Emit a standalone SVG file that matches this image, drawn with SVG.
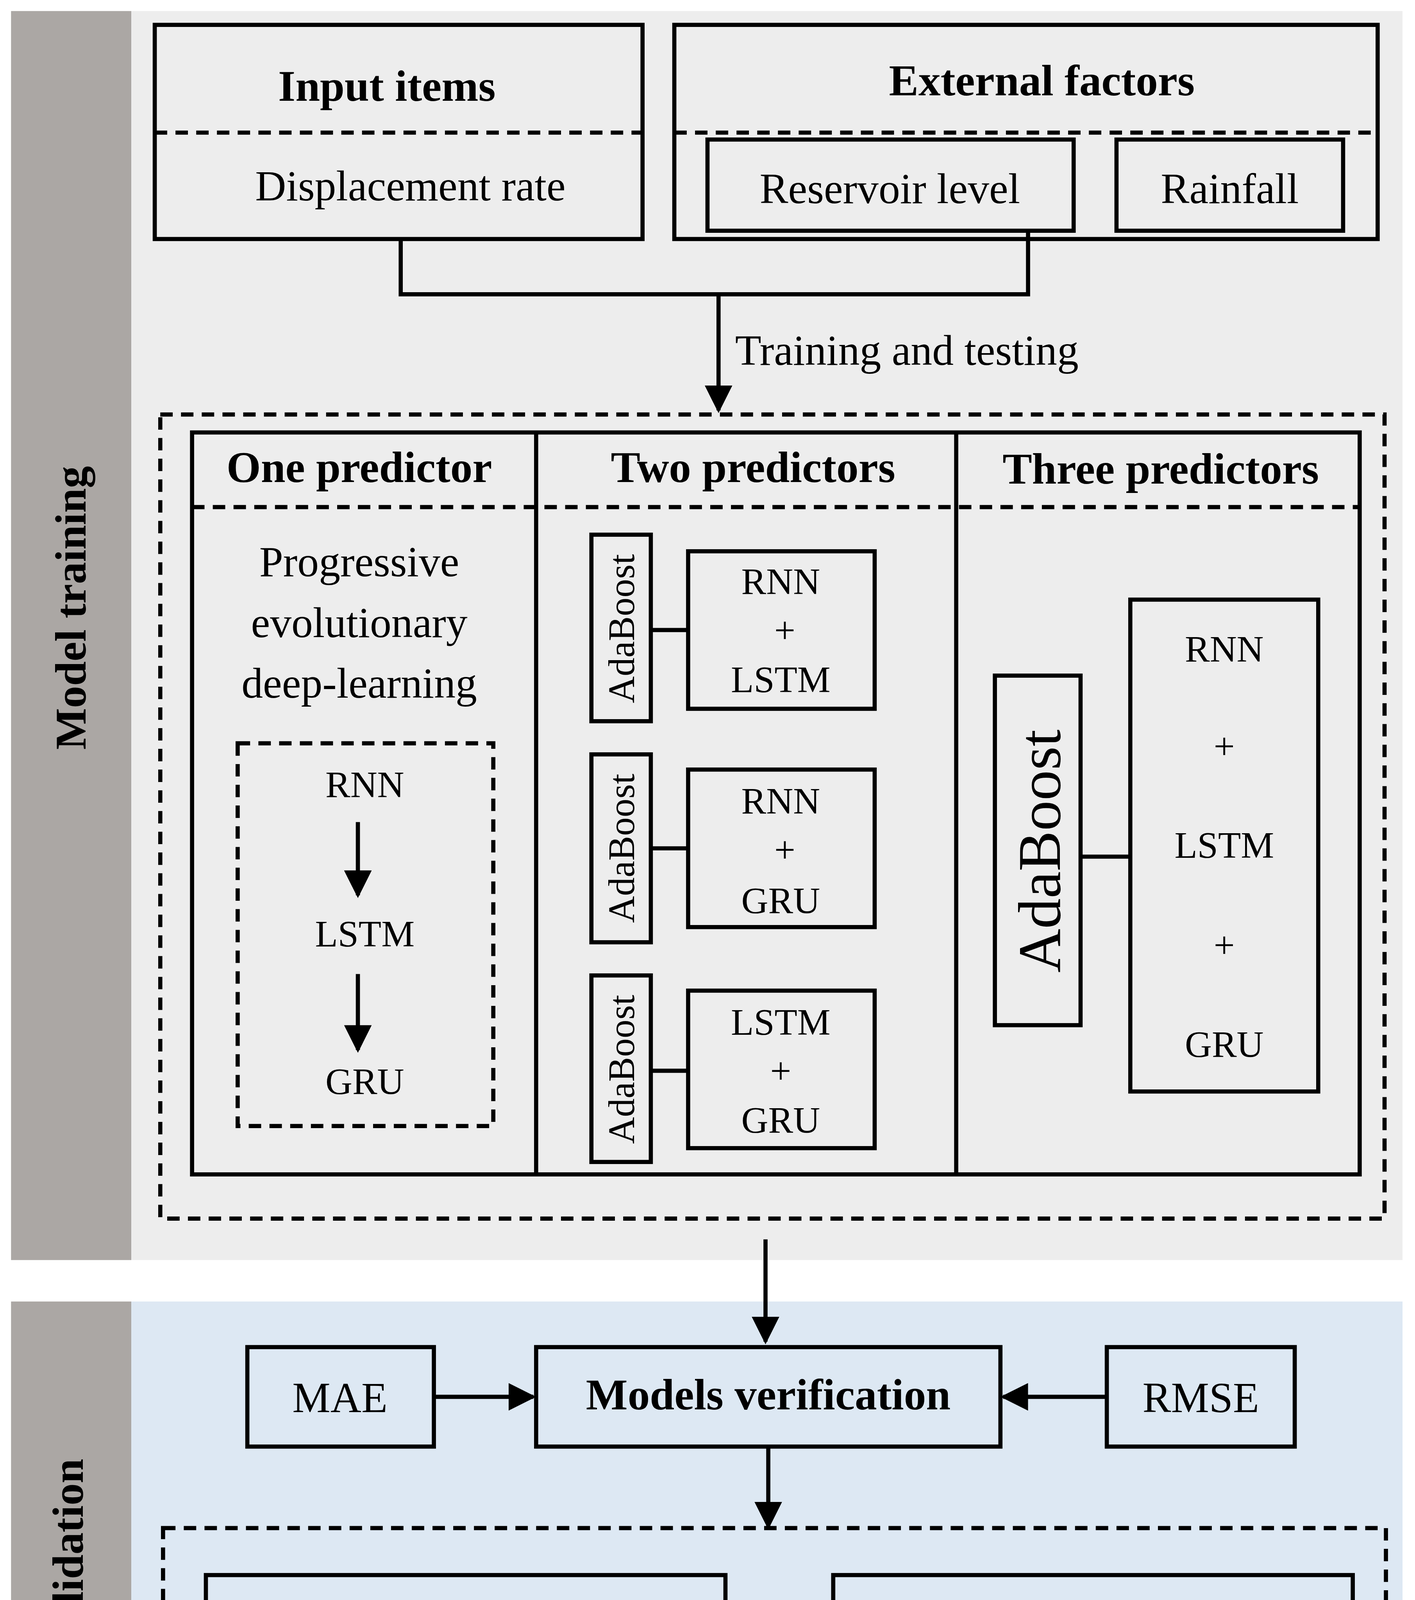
<svg xmlns="http://www.w3.org/2000/svg" width="3622" height="5560" viewBox="0 0 3622 5560">
<style>
.b{fill:none;stroke:#000;stroke-width:3}
.d{fill:none;stroke:#000;stroke-width:3;stroke-dasharray:9,6}
.l{fill:none;stroke:#000;stroke-width:3}
text{font-family:"Liberation Serif",serif;fill:#000;text-anchor:middle}
.t{font-size:32px;font-weight:bold}
.n{font-size:31px}
.s{font-size:27px}
</style>
<defs><marker id="a" viewBox="0 0 10 10" refX="9" refY="5" markerWidth="6" markerHeight="6" markerUnits="userSpaceOnUse" orient="auto"><path d="M0,0L10,5L0,10z"/></marker>
<marker id="m" viewBox="0 0 10 10" refX="9" refY="5" markerWidth="20" markerHeight="20" markerUnits="userSpaceOnUse" orient="auto"><path d="M0,0L10,5L0,10z"/></marker></defs>
<rect width="3622" height="5560" fill="#fff"/>
<g transform="scale(3.537)">
<g id="bg">
<rect x="8" y="8" width="87" height="904" fill="#aba7a4"/>
<rect x="95" y="8" width="920" height="904" fill="#ededed"/>
<rect x="8" y="942" width="87" height="618" fill="#aba7a4"/>
<rect x="95" y="942" width="920" height="618" fill="#dde8f3"/>
<text class="t" transform="translate(62,440) rotate(-90)">Model training</text>
<text class="t" transform="translate(60,1178) rotate(-90)">Models validation</text>
</g>
<g id="input"><rect class="b" x="112" y="18" width="353" height="155"/><line class="d" x1="112" y1="96" x2="465" y2="96"/>
<text class="t" x="280" y="73">Input items</text><text class="n" x="297" y="145">Displacement rate</text></g>
<g id="external"><rect class="b" x="488" y="18" width="509" height="155"/><line class="d" x1="488" y1="96" x2="997" y2="96"/>
<text class="t" x="754" y="69">External factors</text>
<rect class="b" x="512" y="101" width="265" height="66"/><text class="n" x="644" y="147">Reservoir level</text>
<rect class="b" x="808" y="101" width="164" height="66"/><text class="n" x="890" y="147">Rainfall</text></g>
<g id="training">
<rect class="d" x="116" y="300" width="886" height="582"/>
<rect class="b" x="139" y="313" width="845" height="537"/>
<line class="l" x1="388" y1="313" x2="388" y2="850"/><line class="l" x1="692" y1="313" x2="692" y2="850"/>
<line class="d" x1="139" y1="367" x2="984" y2="367"/>
<text class="t" x="260" y="349">One predictor</text><text class="t" x="545" y="349">Two predictors</text><text class="t" x="840" y="350">Three predictors</text>
<text class="n" x="260" y="417">Progressive</text><text class="n" x="260" y="461">evolutionary</text><text class="n" x="260" y="505">deep-learning</text>
<rect class="d" x="172" y="538" width="185" height="277"/>
<text class="s" x="264" y="577">RNN</text><text class="s" x="264" y="685">LSTM</text><text class="s" x="264" y="792">GRU</text>
<line class="l" x1="259" y1="595" x2="259" y2="648" marker-end="url(#m)"/><line class="l" x1="259" y1="705" x2="259" y2="760" marker-end="url(#m)"/>
<rect class="b" x="428" y="387" width="43" height="135"/><text class="s" transform="translate(459,455) rotate(-90)">AdaBoost</text>
<rect class="b" x="428" y="546" width="43" height="136"/><text class="s" transform="translate(459,614) rotate(-90)">AdaBoost</text>
<rect class="b" x="428" y="706" width="43" height="135"/><text class="s" transform="translate(459,774) rotate(-90)">AdaBoost</text>
<rect class="b" x="498" y="399" width="135" height="114"/><text class="s" x="565" y="430">RNN</text><text class="s" x="568" y="465">+</text><text class="s" x="565" y="501">LSTM</text>
<rect class="b" x="498" y="557" width="135" height="114"/><text class="s" x="565" y="589">RNN</text><text class="s" x="568" y="624">+</text><text class="s" x="565" y="661">GRU</text>
<rect class="b" x="498" y="717" width="135" height="114"/><text class="s" x="565" y="749">LSTM</text><text class="s" x="565" y="784">+</text><text class="s" x="565" y="820">GRU</text>
<line class="l" x1="471" y1="456" x2="498" y2="456"/><line class="l" x1="471" y1="614" x2="498" y2="614"/><line class="l" x1="471" y1="775" x2="498" y2="775"/>
<rect class="b" x="720" y="489" width="62" height="253"/><text style="font-size:44px" transform="translate(767,616) rotate(-90)">AdaBoost</text>
<rect class="b" x="818" y="434" width="136" height="356"/>
<text class="s" x="886" y="479">RNN</text><text class="s" x="886" y="549">+</text><text class="s" x="886" y="621">LSTM</text><text class="s" x="886" y="693">+</text><text class="s" x="886" y="765">GRU</text>
<line class="l" x1="782" y1="620" x2="818" y2="620"/>
</g>
<g id="verification">
<rect class="b" x="179" y="975" width="135" height="72"/><text class="n" x="246" y="1022">MAE</text>
<rect class="b" x="388" y="975" width="336" height="72"/><text class="t" x="556" y="1020">Models verification</text>
<rect class="b" x="801" y="975" width="136" height="72"/><text class="n" x="869" y="1022">RMSE</text>
</g>
<g id="validation">
<rect class="d" x="118" y="1106" width="885" height="289"/>
<rect class="b" x="149" y="1140" width="376" height="212"/><line class="l" x1="149" y1="1220" x2="525" y2="1220"/>
<text class="t" x="337" y="1194">Ablation experiments</text>
<text class="s" x="337" y="1261">Reservoir</text><text class="s" x="337" y="1297">Rainfall</text><text class="s" x="337" y="1333">No influence factor</text>
<rect class="b" x="603" y="1140" width="376" height="213"/><line class="l" x1="603" y1="1247" x2="979" y2="1247"/>
<text class="t" x="791" y="1186">Influence of</text><text class="t" x="791" y="1228">hyperparameters</text>
<text class="s" x="791" y="1311">Window length</text>
</g>
<g id="final"><rect class="b" x="116" y="1460" width="885" height="90"/>
<text class="t" x="558" y="1498">Comparative ensemble deep-learning models</text><text class="t" x="558" y="1540">and best performance selected for LDRP</text></g>
<g id="connectors">
<polyline class="l" points="290,173 290,213 744,213 744,167"/>
<line class="l" x1="520" y1="213" x2="520" y2="297" marker-end="url(#m)"/>
<text class="n" x="532" y="264" style="text-anchor:start">Training and testing</text>
<line class="l" x1="554" y1="897" x2="554" y2="971" marker-end="url(#m)"/>
<line class="l" x1="314" y1="1011" x2="386" y2="1011" marker-end="url(#m)"/>
<line class="l" x1="801" y1="1011" x2="726" y2="1011" marker-end="url(#m)"/>
<line class="l" x1="556" y1="1047" x2="556" y2="1105" marker-end="url(#m)"/>
<line class="l" x1="556" y1="1397" x2="556" y2="1458" marker-end="url(#m)"/>
</g>
</g>
</svg>
